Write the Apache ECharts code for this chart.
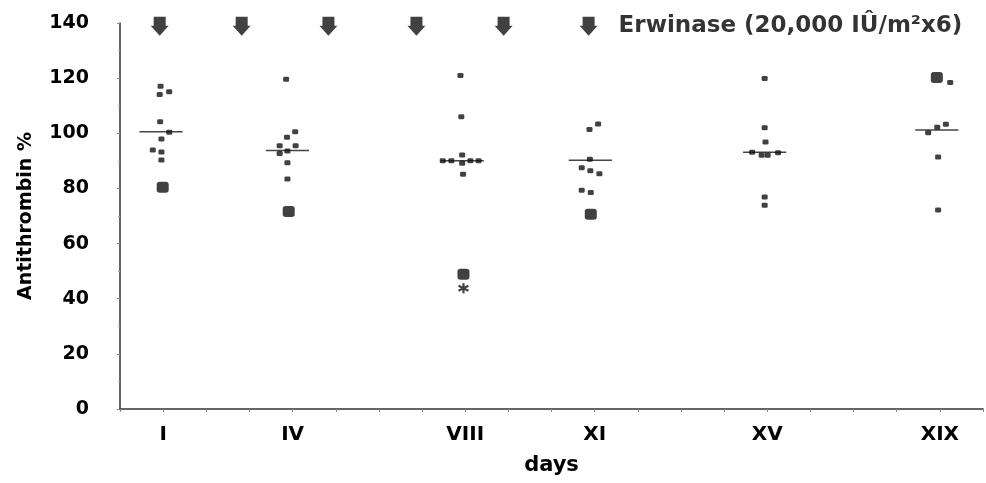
<!DOCTYPE html>
<html>
<head>
<meta charset="utf-8">
<script src="https://cdn.jsdelivr.net/npm/echarts@6/dist/echarts.min.js"></script>
<style>html,body{margin:0;padding:0;background:#fff}#c{width:986px;height:483px}</style>
</head>
<body>
<div id="c"></div>
<script>
// ---- data ----
const dayTicks = [1, 4, 8, 11, 15, 19];
const dayLabels = ['I', 'IV', 'VIII', 'XI', 'XV', 'XIX'];
const yTicks = [0, 20, 40, 60, 80, 100, 120, 140];

// [day position (with jitter), antithrombin %]
const pointsI = [[0.94,117.1],[0.92,114.1],[1.14,115.1],[0.93,104.2],[1.14,100.4],[0.96,97.9],[0.76,93.9],[0.96,93.2],[0.96,90.3]];
const pointsIV = [[3.85,119.6],[4.06,100.6],[3.87,98.6],[3.70,95.5],[4.07,95.5],[3.70,92.7],[3.88,93.6],[3.88,89.3],[3.88,83.4]];
const pointsVIII = [[7.89,121.0],[7.91,106.0],[7.93,92.1],[7.48,90.0],[7.68,90.0],[8.12,90.0],[8.31,90.0],[7.93,89.1],[7.95,85.1]];
const pointsXI = [[11.08,103.4],[10.88,101.4],[10.89,90.6],[10.70,87.5],[10.90,86.4],[11.11,85.3],[10.70,79.3],[10.91,78.5]];
const pointsXV = [[14.94,119.9],[14.94,102.0],[14.96,96.8],[14.65,93.1],[15.25,92.9],[14.87,92.0],[15.01,92.0],[14.94,76.9],[14.94,73.9]];
const pointsXIX = [[19.24,118.4],[19.14,103.3],[18.94,102.2],[18.73,100.2],[18.96,91.4],[18.96,72.2]];
// larger markers (overlapping values)
const bigPoints = [[0.99,80.4],[3.91,71.6],[7.96,48.9],[10.91,70.6],[18.93,120.2]];
const starPoint = [[7.96,43.8]];
// medians per day
const medianCenters = [0.95, 3.88, 7.93, 10.9, 14.94, 18.93];
const medianValues = [100.6, 93.8, 90.0, 90.2, 93.1, 101.2];
// Erwinase doses (arrows)
const arrowDays = [0.92, 2.82, 4.83, 6.87, 8.89, 10.86];
const arrowLevel = 138.8;
const legendText = 'Erwinase (20,000 IÛ/m²x6)';

// ---- chart ----
const FONT = 'DejaVu Sans';
const INK = '#000';
const allPoints = [].concat(pointsI, pointsIV, pointsVIII, pointsXI, pointsXV, pointsXIX);
const medianData = medianCenters.map((c, i) => [c, medianValues[i]]);
const arrowData = arrowDays.map((d, i) => ({
  value: [d, arrowLevel],
  label: i === arrowDays.length - 1 ? {
    show: true, position: 'right', distance: 21, formatter: legendText,
    fontFamily: FONT, fontWeight: 'bold', fontSize: 23, color: INK
  } : { show: false }
}));

const chart = echarts.init(document.getElementById('c'), null, { renderer: 'canvas' });
chart.setOption({
  animation: false,
  backgroundColor: '#fff',
  grid: { left: 120, right: 3, top: 23, bottom: 74, containLabel: false },
  xAxis: {
    type: 'value', min: 0, max: 20, interval: 1,
    name: 'days', nameLocation: 'middle', nameGap: 46,
    nameTextStyle: { fontFamily: FONT, fontWeight: 'bold', fontSize: 21, color: INK },
    axisLine: { show: true, lineStyle: { color: '#333', width: 1.5 } },
    axisTick: { show: true, length: 3, lineStyle: { color: '#888', width: 1 } },
    axisLabel: {
      customValues: dayTicks,
      formatter: v => dayLabels[dayTicks.indexOf(v)] || '',
      margin: 16, fontFamily: FONT, fontWeight: 'bold', fontSize: 20, color: INK
    },
    splitLine: { show: false }
  },
  yAxis: {
    type: 'value', min: 0, max: 140, interval: 20,
    name: 'Antithrombin %', nameLocation: 'middle', nameGap: 84,
    nameTextStyle: { fontFamily: FONT, fontWeight: 'bold', fontSize: 19, color: INK },
    axisLine: { show: true, lineStyle: { color: '#333', width: 1.5 } },
    axisTick: { show: true, length: 3, lineStyle: { color: '#888' } },
    minorTick: { show: true, splitNumber: 2, length: 2, lineStyle: { color: '#aaa' } },
    axisLabel: {
      customValues: yTicks,
      margin: 31, fontFamily: FONT, fontWeight: 'bold', fontSize: 19, color: INK
    },
    splitLine: { show: false }
  },
  series: [
    {
      name: 'medians', type: 'custom', data: medianData, z: 2,
      renderItem: (params, api) => {
        const c = api.value(0), m = api.value(1);
        const p1 = api.coord([c - 0.5, m]);
        const p2 = api.coord([c + 0.5, m]);
        return { type: 'line', shape: { x1: p1[0], y1: p1[1], x2: p2[0], y2: p2[1] },
                 style: { stroke: '#444', lineWidth: 1.5 } };
      }
    },
    {
      name: 'Antithrombin', type: 'scatter', data: allPoints, z: 3,
      symbol: 'roundRect', symbolSize: [6, 5], itemStyle: { color: '#111' }
    },
    {
      name: 'Antithrombin (overlapping)', type: 'scatter', data: bigPoints, z: 3,
      symbol: 'roundRect', symbolSize: [12, 11], itemStyle: { color: '#111' }
    },
    {
      name: 'star', type: 'scatter', data: starPoint, z: 3,
      symbol: 'path://M4,0 H6 V3.3 L8.9,1.6 L9.9,3.4 L7,5 L9.9,6.6 L8.9,8.4 L6,6.7 V10 H4 V6.7 L1.1,8.4 L0.1,6.6 L3,5 L0.1,3.4 L1.1,1.6 L4,3.3 Z',
      symbolSize: [11, 10], itemStyle: { color: '#111' }
    },
    {
      name: 'Erwinase', type: 'scatter', data: arrowData, z: 3,
      symbol: 'path://M3,0 L15,0 L15,9 L18,9 L9,19 L0,9 L3,9 Z',
      symbolSize: [18, 19], itemStyle: { color: '#111' }
    }
  ]
});
</script>
</body>
</html>
